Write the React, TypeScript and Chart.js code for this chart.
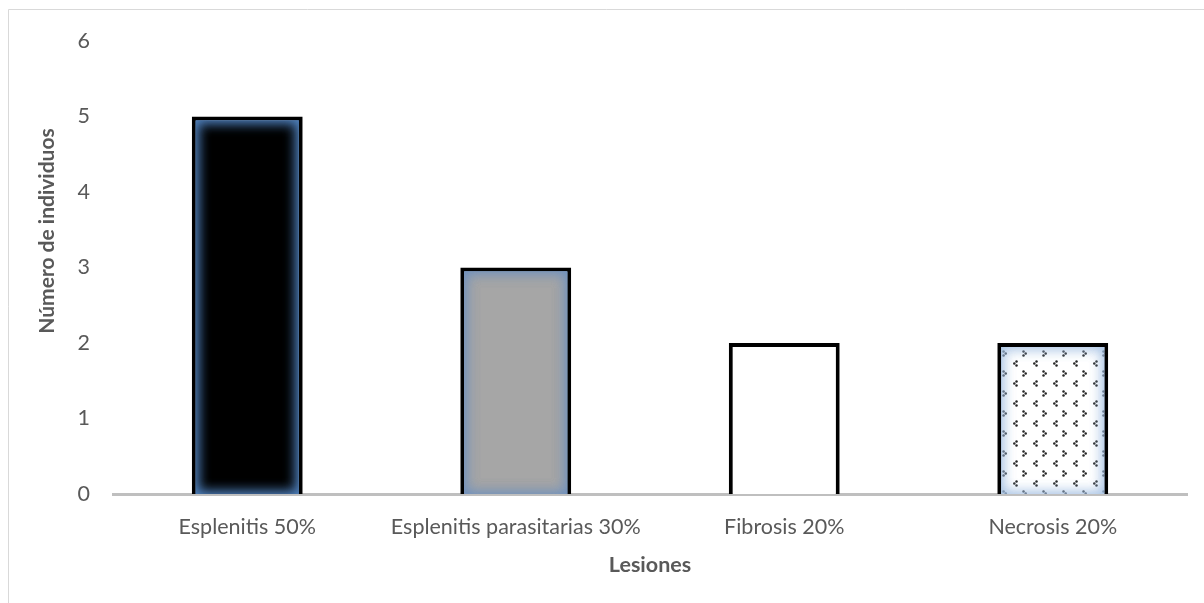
import React, { useEffect, useRef } from "react";
import { Chart, registerables } from "chart.js";

Chart.register(...registerables);

// Lesion categories and number of individuals per lesion
const categories = [
  "Esplenitis 50%",
  "Esplenitis parasitarias 30%",
  "Fibrosis 20%",
  "Necrosis 20%",
];
const counts = [5, 3, 2, 2];
const yMin = 0;
const yMax = 6;
const yStep = 1;
const yTitle = "Número de individuos";
const xTitle = "Lesiones";

const FONT = "Lato, 'Open Sans', sans-serif";
const TEXT = "#595959";

// Small tile of dark arrow marks on white, used for the last bar
function makeArrowPattern(ctx: CanvasRenderingContext2D): CanvasPattern | string {
  const tile = document.createElement("canvas");
  tile.width = 20;
  tile.height = 20;
  const t = tile.getContext("2d");
  if (!t) return "#ffffff";
  t.fillStyle = "#ffffff";
  t.fillRect(0, 0, 20, 20);
  t.fillStyle = "#262626";
  const dot = (x: number, y: number) => {
    t.beginPath();
    t.arc(x, y, 1.25, 0, Math.PI * 2);
    t.fill();
  };
  // "<" mark
  dot(16.5, 1.5);
  dot(14.3, 3.5);
  dot(16.5, 5.5);
  // ">" mark
  dot(3.5, 11.5);
  dot(5.7, 13.5);
  dot(3.5, 15.5);
  return ctx.createPattern(tile, "repeat") || "#ffffff";
}

const glowColors: (string | null)[] = [
  "rgba(79,129,189,1)",
  "rgba(100,140,195,0.85)",
  null,
  "rgba(160,190,225,0.9)",
];

const BAR_BORDER = 4;

const innerGlowPlugin = {
  id: "innerGlow",
  afterDatasetsDraw(chart: any) {
    const ctx: CanvasRenderingContext2D = chart.ctx;
    const meta = chart.getDatasetMeta(0);
    meta.data.forEach((bar: any, i: number) => {
      const g = glowColors[i];
      if (!g) return;
      const { x, y, base, width } = bar.getProps(["x", "y", "base", "width"], true);
      const l = x - width / 2 + BAR_BORDER;
      const r = x + width / 2 - BAR_BORDER;
      const t = y + BAR_BORDER;
      const b = base;
      ctx.save();
      ctx.beginPath();
      ctx.rect(l, t, r - l, b - t);
      ctx.clip();
      ctx.shadowColor = g;
      ctx.shadowBlur = 14;
      ctx.strokeStyle = g;
      ctx.lineWidth = 20;
      for (let k = 0; k < 2; k++) {
        ctx.strokeRect(l - 10, t - 10, r - l + 20, b - t + 20);
      }
      ctx.restore();
    });
  },
};

// Light frame at the top and left of the page plus the rotated y title
const framePlugin = {
  id: "frameAndTitle",
  beforeDraw(chart: any) {
    const ctx: CanvasRenderingContext2D = chart.ctx;
    ctx.save();
    ctx.fillStyle = "#ffffff";
    ctx.fillRect(0, 0, chart.width, chart.height);
    ctx.strokeStyle = "#d9d9d9";
    ctx.lineWidth = 1;
    ctx.beginPath();
    ctx.moveTo(8.5, chart.height);
    ctx.lineTo(8.5, 9.5);
    ctx.lineTo(chart.width, 9.5);
    ctx.stroke();
    ctx.restore();
  },
  afterDraw(chart: any) {
    const ctx: CanvasRenderingContext2D = chart.ctx;
    ctx.save();
    ctx.translate(47, 231);
    ctx.rotate(-Math.PI / 2);
    ctx.font = `bold 21px ${FONT}`;
    ctx.fillStyle = TEXT;
    ctx.textAlign = "center";
    ctx.textBaseline = "middle";
    ctx.fillText(yTitle, 0, 0);
    ctx.restore();
  },
};

export default function App() {
  const ref = useRef<HTMLCanvasElement | null>(null);

  useEffect(() => {
    const canvas = ref.current;
    if (!canvas) return;
    const ctx = canvas.getContext("2d");
    if (!ctx) return;
    const pattern = makeArrowPattern(ctx);

    const chart = new Chart(ctx, {
      type: "bar",
      data: {
        labels: categories,
        datasets: [
          {
            data: counts,
            backgroundColor: ["#000000", "#a6a6a6", "#ffffff", pattern as any],
            borderColor: "#000000",
            borderWidth: BAR_BORDER,
            borderSkipped: "start",
            categoryPercentage: 1,
            barPercentage: 0.413,
          },
        ],
      },
      options: {
        responsive: false,
        animation: false,
        events: [],
        layout: { padding: { top: 41, right: 17, left: 0, bottom: 0 } },
        plugins: {
          legend: { display: false },
          tooltip: { enabled: false },
        },
        scales: {
          x: {
            grid: { display: false, drawTicks: false },
            border: { display: true, color: "#bfbfbf", width: 3 },
            ticks: {
              color: TEXT,
              font: { family: FONT, size: 21.5 },
              padding: 20,
              maxRotation: 0,
              autoSkip: false,
            },
            title: {
              display: true,
              text: xTitle,
              color: TEXT,
              font: { family: FONT, size: 21.5, weight: "bold" },
              padding: { top: 0, bottom: 25 },
            },
            afterFit(scale: any) {
              scale.height = 109;
            },
          },
          y: {
            min: yMin,
            max: yMax,
            grid: { display: false, drawTicks: false },
            border: { display: false },
            ticks: {
              stepSize: yStep,
              color: TEXT,
              font: { family: FONT, size: 21.5 },
              padding: 23,
            },
            afterFit(scale: any) {
              scale.width = 113;
            },
          },
        },
      },
      plugins: [innerGlowPlugin, framePlugin],
    });
    return () => chart.destroy();
  }, []);

  return (
    <canvas
      ref={ref}
      width={1204}
      height={603}
      style={{ position: "fixed", left: 0, top: 0, display: "block" }}
    />
  );
}
